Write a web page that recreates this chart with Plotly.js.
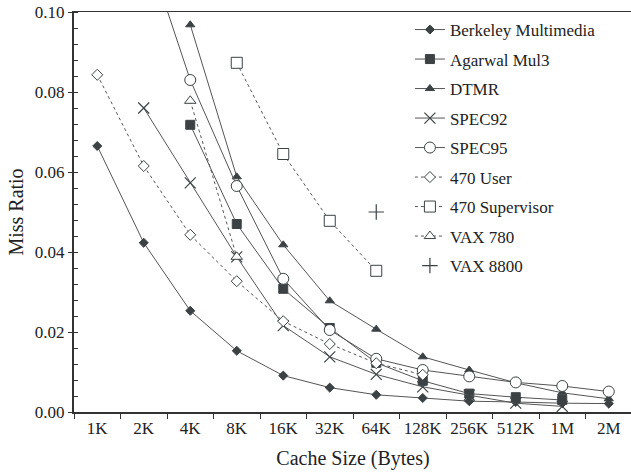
<!DOCTYPE html>
<html>
<head>
<meta charset="utf-8">
<script src="https://cdn.plot.ly/plotly-3.0.1.min.js"></script>
<style>html,body{margin:0;padding:0;overflow:hidden;background:#fff}</style>
</head>
<body>
<div id="chart"></div>
<script>
var categories = ["1K","2K","4K","8K","16K","32K","64K","128K","256K","512K","1M","2M"];

var berkeley   = [0.0665,0.0423,0.0253,0.0153,0.0091,0.0061,0.0043,0.0035,0.0027,0.0025,0.0022,0.0021];
var agarwal    = [null,null,0.0718,0.0470,0.0308,0.0210,0.0123,0.0078,0.0046,0.0037,0.0030,null];
var dtmr       = [null,null,0.0968,0.0588,0.0418,0.0278,0.0207,0.0138,0.0105,0.0073,0.0048,0.0033];
var spec92     = [null,0.0760,0.0573,0.0388,0.0216,0.0138,0.0094,0.0063,0.0042,0.0022,0.0014,null];
var spec95     = [null,0.1180,0.0830,0.0565,0.0333,0.0205,0.0133,0.0105,0.0089,0.0074,0.0065,0.0051];
var user470    = [0.0843,0.0615,0.0443,0.0327,0.0227,0.0170,0.0122,0.0093,null,null,null,null];
var super470   = [null,null,null,0.0873,0.0645,0.0478,0.0353,null,null,null,null,null];
var vax780     = [null,null,0.0778,0.0388,null,null,null,null,null,null,null,null];
var vax8800    = [null,null,null,null,null,null,0.0500,null,null,null,null,null];

var DARK = "#3c4244";
var LINE = "#555555";
var FONT = "Liberation Serif";
var TXT = "#222222";

function tr(name, y, symbol, size, filled, dash, mode, group) {
  return {
    type: "scatter",
    mode: mode || "lines+markers",
    name: name,
    x: categories,
    y: y,
    legendgroup: group,
    connectgaps: false,
    line: {color: LINE, width: 1, dash: dash || "solid"},
    marker: {
      symbol: symbol,
      size: size,
      color: filled ? DARK : "#ffffff",
      line: {color: DARK, width: 1}
    }
  };
}

var data = [
  tr("Berkeley Multimedia", berkeley, "diamond", 7, true, "solid", null, "g1"),
  tr("Agarwal Mul3", agarwal, "square", 9, true, "solid", null, "g2"),
  tr("DTMR", dtmr, "triangle-up", 8, true, "solid", null, "g3"),
  tr("SPEC92", spec92, "x-thin-open", 11, true, "solid", null, "g4"),
  tr("SPEC95", spec95, "circle", 11, false, "solid", null, "g5"),
  tr("470 User", user470, "diamond", 8.5, false, "dot", null, "g6"),
  tr("470 Supervisor", super470, "square", 11, false, "dot", null, "g7"),
  tr("VAX 780", vax780, "triangle-up", 10, false, "dot", null, "g8"),
  tr("VAX 8800", vax8800, "cross-thin-open", 11, true, "solid", "markers", "g9")
];
data[3].marker.line.width = 1.2;
data[8].marker.line.width = 1.2;

var layout = {
  width: 632,
  height: 473,
  margin: {l: 74, r: 0, t: 12, b: 61},
  paper_bgcolor: "#ffffff",
  plot_bgcolor: "#ffffff",
  font: {family: FONT, size: 17, color: TXT},
  showlegend: true,
  legend: {
    x: 0.602, y: 1, xanchor: "left", yanchor: "top",
    font: {family: FONT, size: 17, color: TXT},
    traceorder: "grouped",
    tracegroupgap: 4.4,
    bgcolor: "rgba(0,0,0,0)"
  },
  xaxis: {
    type: "category",
    range: [-0.5, 11.5],
    tickson: "boundaries",
    ticks: "outside",
    ticklen: 5,
    tickwidth: 1,
    tickcolor: "#333",
    tickangle: 0,
    showline: true,
    linecolor: "#333",
    linewidth: 1.5,
    mirror: true,
    showgrid: false,
    zeroline: false,
    tickfont: {family: FONT, size: 17, color: TXT},
    title: {text: "Cache Size (Bytes)", font: {family: FONT, size: 20, color: TXT}, standoff: 14}
  },
  yaxis: {
    range: [0, 0.1],
    dtick: 0.02,
    tick0: 0,
    tickformat: ".2f",
    ticks: "outside",
    ticklen: 4,
    tickwidth: 1,
    tickcolor: "#333",
    showline: true,
    linecolor: "#333",
    linewidth: 2,
    showgrid: false,
    zeroline: false,
    minor: {dtick: 0.004, ticks: "inside", ticklen: 4, tickcolor: "#333", tickwidth: 1, showgrid: false},
    tickfont: {family: FONT, size: 17, color: TXT},
    title: {text: "Miss Ratio", font: {family: FONT, size: 20, color: TXT}, standoff: 6}
  }
};

Plotly.newPlot("chart", data, layout, {displayModeBar: false, staticPlot: true});
</script>
</body>
</html>
